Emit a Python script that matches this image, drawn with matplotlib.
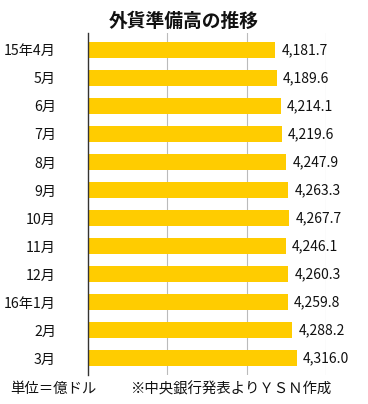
import matplotlib
matplotlib.use("Agg")
import matplotlib.pyplot as plt

plt.rcParams['font.family'] = ['Noto Sans CJK JP', 'DejaVu Sans']

categories = ["15年4月", "5月", "6月", "7月", "8月", "9月", "10月", "11月", "12月", "16年1月", "2月", "3月"]
values = [4181.7, 4189.6, 4214.1, 4219.6, 4247.9, 4263.3, 4267.7, 4246.1, 4260.3, 4259.8, 4288.2, 4316.0]
title = "外貨準備高の推移"
unit_note = "単位＝億ドル"
source_note = "※中央銀行発表よりＹＳＮ作成"

fig = plt.figure(figsize=(3.68, 4.04), dpi=100)
ax = fig.add_axes([88/368, 1-375/404, (326-88)/368, (375-33)/404])

y = list(range(len(categories)))
ax.barh(y, [v - 3000 for v in values], left=3000, height=0.58, color="#FFCC00", zorder=2)
ax.set_xlim(3000, 4500)
ax.set_ylim(len(categories) - 0.5 + 0.1, -0.5 - 0.1)
ax.set_xticks([3500, 4000, 4500])
ax.xaxis.grid(True, color="#BBBBBB", linewidth=0.8, zorder=0)
ax.tick_params(axis='x', length=0, labelbottom=False)
ax.set_yticks(y)
ax.set_yticklabels(categories, fontsize=10.2, color="#111111")
ax.tick_params(axis='y', length=0, pad=23)
for s in ["top", "right", "bottom"]:
    ax.spines[s].set_visible(False)
ax.spines["left"].set_color("#333333")
ax.spines["left"].set_linewidth(1.0)

for yi, v in zip(y, values):
    ax.text(v + 40, yi, f"{v:,.1f}", va="center", ha="left", fontsize=10, color="#111111", clip_on=False)

fig.text(184/368, 1-21/404, title, ha="center", va="center", fontsize=13.5, fontweight="bold", color="#111111")
fig.text(10/368, 1-389/404, unit_note, ha="left", va="center", fontsize=10.4, color="#111111")
fig.text(130/368, 1-389/404, source_note, ha="left", va="center", fontsize=10.4, color="#111111")

fig.savefig("out.png", dpi=100)
